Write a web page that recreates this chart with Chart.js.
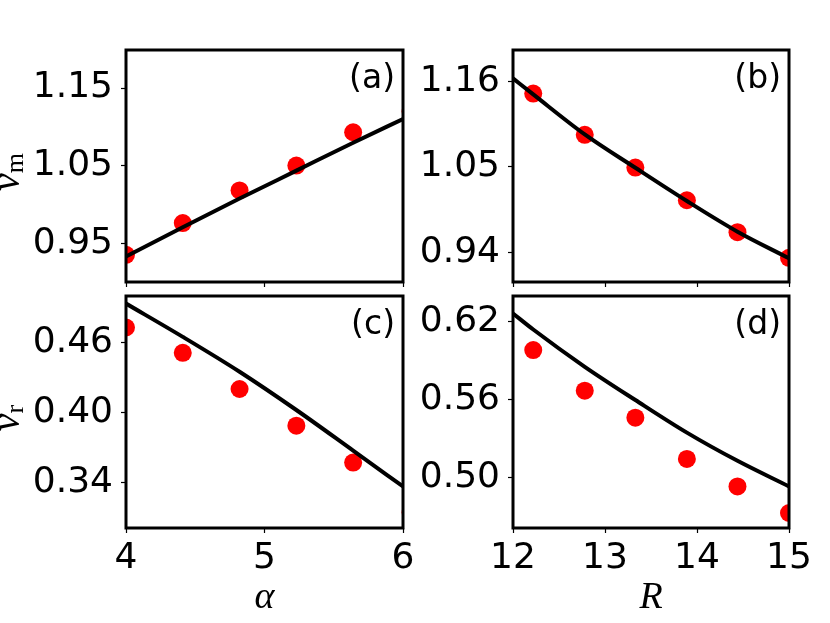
<!DOCTYPE html>
<html>
<head>
<meta charset="utf-8">
<script src="https://cdn.jsdelivr.net/npm/chart.js@4.4.1/dist/chart.umd.min.js"></script>
<style>
    body { margin: 0; background: #ffffff; }
    canvas { position: absolute; left: 0; top: 0; }
</style>
</head>
<body>
<canvas id="panelA" width="830" height="623"></canvas>
<canvas id="panelB" width="830" height="623"></canvas>
<canvas id="panelC" width="830" height="623"></canvas>
<canvas id="panelD" width="830" height="623"></canvas>
<script>
// ---- data ----
const alphaTicks = [4, 5, 6];
const rTicks = [12, 13, 14, 15];
const nuMTicksAlpha = [0.95, 1.05, 1.15];
const nuMTicksR = [0.94, 1.05, 1.16];
const nuRTicksAlpha = [0.34, 0.40, 0.46];
const nuRTicksR = [0.50, 0.56, 0.62];

// simulation points (red dots)
const alphaSim = [4.0, 4.41, 4.82, 5.23, 5.64, 6.055];
const rSim = [12.22, 12.78, 13.33, 13.89, 14.44, 15.0];
const nuMAlphaSim = [0.935, 0.976, 1.018, 1.050, 1.093, 1.120];
const nuMRSim = [1.144, 1.091, 1.049, 1.007, 0.966, 0.933];
const nuRAlphaSim = [0.4728, 0.4511, 0.4201, 0.3887, 0.3571, 0.3144];
const nuRRSim = [0.5982, 0.5668, 0.5460, 0.5141, 0.4928, 0.4723];

// theory curves (black lines)
const alphaFit = [4.0, 4.41, 4.82, 5.23, 5.64, 6.0];
const rFit = [12.0, 12.22, 12.78, 13.33, 13.89, 14.44, 15.0];
const nuMAlphaFit = [0.933, 0.9705, 1.0075, 1.0435, 1.0795, 1.110];
const nuMRFit = [1.1635, 1.143, 1.0916, 1.0487, 1.006, 0.9666, 0.9324];
const nuRAlphaFit = [0.4933, 0.4648, 0.4349, 0.4021, 0.3673, 0.3366];
const nuRRFit = [0.6265, 0.6141, 0.5853, 0.5596, 0.5344, 0.5126, 0.4928];

const W = 830, H = 623;
const Y_AXIS_W = 110, X_AXIS_H = 60;
const TICK_FONT = { family: '"DejaVu Sans"', size: 36 };

// frame + panel texts (tag, axis titles)
const panelText = {
    id: 'panelText',
    afterDatasetsDraw(chart, args, opts) {
        const ctx = chart.ctx;
        const a = chart.chartArea;
        ctx.save();
        ctx.strokeStyle = '#000';
        ctx.lineWidth = 3;
        ctx.strokeRect(a.left, a.top, a.right - a.left, a.bottom - a.top);

        ctx.fillStyle = '#000';
        ctx.font = '33px "DejaVu Sans"';
        ctx.textAlign = 'right';
        ctx.textBaseline = 'alphabetic';
        ctx.fillText(opts.tag, a.right - 8, a.top + 38);

        if (opts.xLabel) {
            ctx.font = 'italic 38px "Liberation Serif"';
            ctx.textAlign = 'center';
            ctx.fillText(opts.xLabel, (a.left + a.right) / 2, 608);
        }
        if (opts.yMain) {
            const cy = (a.top + a.bottom) / 2 + 6;
            ctx.translate(19, cy);
            ctx.rotate(-Math.PI / 2);
            ctx.textAlign = 'left';
            ctx.font = 'italic 40px "Liberation Serif"';
            const w1 = ctx.measureText(opts.yMain).width;
            ctx.font = '26px "Liberation Serif"';
            const w2 = ctx.measureText(opts.ySub).width;
            const x0 = -(w1 + w2) / 2;
            ctx.font = 'italic 40px "Liberation Serif"';
            ctx.fillText(opts.yMain, x0, 0);
            ctx.font = '26px "Liberation Serif"';
            ctx.fillText(opts.ySub, x0 + w1, 4);
        }
        ctx.restore();
    }
};

function makePanel(id, box, xs, ys, fitX, fitY, xRange, yRange, xTicks, yTicks, showXLabels, text) {
    const ctx = document.getElementById(id).getContext('2d');
    return new Chart(ctx, {
        type: 'scatter',
        data: {
            datasets: [
                {
                    data: fitX.map((x, i) => ({ x: x, y: fitY[i] })),
                    showLine: true,
                    borderColor: '#000',
                    borderWidth: 4,
                    pointRadius: 0,
                    cubicInterpolationMode: 'monotone',
                    clip: 0,
                    order: 0
                },
                {
                    data: xs.map((x, i) => ({ x: x, y: ys[i] })),
                    pointRadius: 9,
                    pointBackgroundColor: '#ff0000',
                    pointBorderWidth: 0,
                    borderColor: '#ff0000',
                    clip: 0,
                    order: 1
                }
            ]
        },
        options: {
            responsive: false,
            animation: false,
            events: [],
            layout: {
                padding: {
                    left: box.left - Y_AXIS_W,
                    top: box.top,
                    right: W - box.right,
                    bottom: H - box.bottom - X_AXIS_H
                }
            },
            plugins: {
                legend: { display: false },
                tooltip: { enabled: false },
                panelText: text
            },
            scales: {
                x: {
                    type: 'linear',
                    position: 'bottom',
                    min: xRange[0],
                    max: xRange[1],
                    afterBuildTicks: (s) => { s.ticks = xTicks.map(v => ({ value: v })); },
                    afterFit: (s) => { s.height = X_AXIS_H; },
                    ticks: {
                        display: showXLabels,
                        color: '#000',
                        font: TICK_FONT,
                        padding: 4,
                        maxRotation: 0,
                        callback: (v) => String(v)
                    },
                    grid: { drawOnChartArea: false, drawTicks: true, tickLength: 5, tickColor: '#000', tickWidth: 1.2 },
                    border: { display: false }
                },
                y: {
                    type: 'linear',
                    position: 'left',
                    min: yRange[0],
                    max: yRange[1],
                    afterBuildTicks: (s) => { s.ticks = yTicks.map(v => ({ value: v })); },
                    afterFit: (s) => { s.width = Y_AXIS_W; },
                    ticks: {
                        color: '#000',
                        font: TICK_FONT,
                        padding: 8,
                        callback: (v) => v.toFixed(2)
                    },
                    grid: { drawOnChartArea: false, drawTicks: true, tickLength: 5, tickColor: '#000', tickWidth: 1.2 },
                    border: { display: false }
                }
            }
        },
        plugins: [panelText]
    });
}

makePanel('panelA', { left: 126, top: 50, right: 403, bottom: 282 },
    alphaSim, nuMAlphaSim, alphaFit, nuMAlphaFit, [4, 6], [0.9, 1.199],
    alphaTicks, nuMTicksAlpha, false, { tag: '(a)', yMain: 'ν', ySub: 'm' });

makePanel('panelB', { left: 513, top: 50, right: 789, bottom: 282 },
    rSim, nuMRSim, rFit, nuMRFit, [12, 15], [0.902, 1.2],
    rTicks, nuMTicksR, false, { tag: '(b)' });

makePanel('panelC', { left: 126, top: 296, right: 403, bottom: 528 },
    alphaSim, nuRAlphaSim, alphaFit, nuRAlphaFit, [4, 6], [0.301, 0.4998],
    alphaTicks, nuRTicksAlpha, true, { tag: '(c)', yMain: 'ν', ySub: 'r', xLabel: 'α' });

makePanel('panelD', { left: 513, top: 296, right: 789, bottom: 528 },
    rSim, nuRRSim, rFit, nuRRFit, [12, 15], [0.4607, 0.640],
    rTicks, nuRTicksR, true, { tag: '(d)', xLabel: 'R' });
</script>
</body>
</html>
